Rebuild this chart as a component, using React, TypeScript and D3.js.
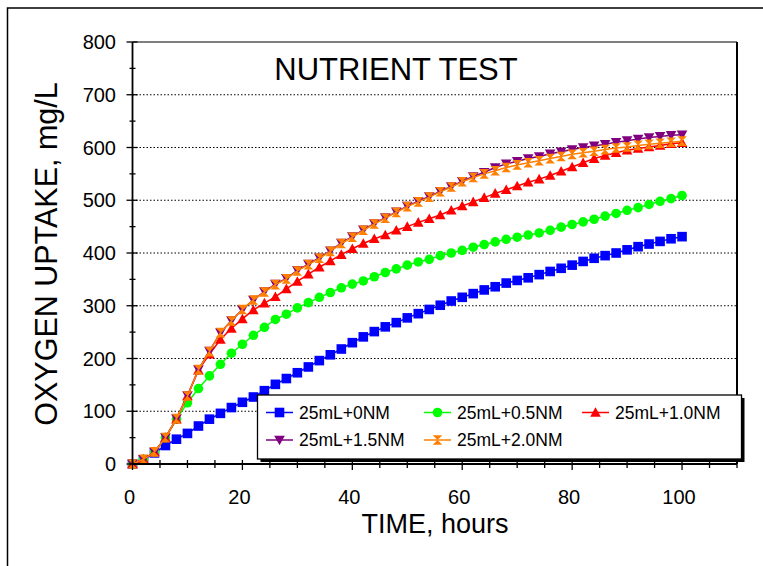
import React from "react";
import * as d3 from "d3";

const hours = d3.range(0, 101, 2);
const seriesNames = ["25mL+0NM", "25mL+0.5NM", "25mL+1.0NM", "25mL+1.5NM", "25mL+2.0NM"];
const blue0 = [0, 8, 21, 35, 47, 58, 72, 85, 96, 107, 117, 127, 139, 151, 162, 173, 184, 196, 207, 218, 230, 241, 251, 260, 268, 277, 285, 293, 301, 309, 316, 323, 330, 336, 343, 348, 353, 359, 365, 371, 377, 384, 390, 395, 400, 406, 412, 417, 422, 427, 431];
const green05 = [0, 9, 23, 50, 85, 116, 143, 167, 189, 210, 227, 244, 259, 274, 284, 296, 306, 316, 325, 334, 341, 347, 355, 363, 370, 377, 383, 388, 395, 400, 405, 411, 416, 421, 426, 430, 434, 438, 443, 449, 454, 459, 464, 470, 475, 481, 486, 492, 498, 503, 509];
const red10 = [0, 9, 23, 50, 85, 129, 178, 208, 236, 257, 275, 292, 305, 317, 332, 346, 360, 373, 385, 397, 408, 418, 427, 434, 443, 450, 458, 465, 472, 481, 489, 497, 505, 513, 520, 527, 534, 540, 547, 555, 563, 571, 579, 585, 590, 595, 598, 601, 604, 607, 609];
const purple15 = [0, 9, 23, 50, 86, 130, 179, 214, 249, 272, 293, 311, 327, 341, 352, 367, 379, 391, 404, 419, 431, 444, 456, 467, 478, 489, 498, 507, 517, 526, 536, 545, 553, 562, 569, 574, 579, 583, 588, 592, 596, 600, 603, 606, 610, 613, 616, 619, 621, 623, 624];
const orange20 = [0, 9, 23, 50, 86, 129, 179, 213, 249, 271, 293, 311, 326, 340, 351, 366, 378, 390, 403, 418, 430, 443, 455, 466, 477, 488, 497, 506, 516, 525, 535, 543, 550, 556, 562, 567, 571, 575, 579, 583, 587, 590, 593, 596, 599, 601, 604, 606, 608, 610, 612];
const seriesValues = [blue0, green05, red10, purple15, orange20];
const seriesColors = ["#0000ff", "#00ff00", "#ff0000", "#800080", "#ff8000"];
const seriesShapes = ["square", "circle", "triangleUp", "triangleDown", "hourglass"];
const yTickLabels = [0, 100, 200, 300, 400, 500, 600, 700, 800];
const xTickLabels = [0, 20, 40, 60, 80, 100];

const FONT = "'Liberation Sans', Arial, sans-serif";

function Marker({ shape, color, cx, cy }: { shape: string; color: string; cx: number; cy: number }) {
  const s = 4.8;
  if (shape === "square")
    return <rect x={cx - s} y={cy - s} width={2 * s} height={2 * s} fill={color} />;
  if (shape === "circle") return <circle cx={cx} cy={cy} r={s} fill={color} />;
  if (shape === "triangleUp")
    return <path d={`M${cx},${cy - s - 0.5}L${cx + s + 0.5},${cy + s - 0.5}L${cx - s - 0.5},${cy + s - 0.5}Z`} fill={color} />;
  if (shape === "triangleDown")
    return <path d={`M${cx},${cy + s + 0.5}L${cx + s + 0.5},${cy - s + 0.5}L${cx - s - 0.5},${cy - s + 0.5}Z`} fill={color} />;
  return (
    <path d={`M${cx - s},${cy - s}L${cx + s},${cy - s}L${cx - s},${cy + s}L${cx + s},${cy + s}Z`} fill={color} />
  );
}

export default function App() {
  const W = 763, H = 566;
  const left = 132.5, right = 737, top = 42, bottom = 464;
  const x = d3.scaleLinear().domain([0, 110]).range([left, right]);
  const y = d3.scaleLinear().domain([0, 800]).range([bottom, top]);
  const line = d3.line<number>().x((_, i) => x(hours[i])).y((d) => y(d));
  const xMinor = d3.range(0, 111, 5);
  const yMinor = d3.range(0, 801, 50);

  const legendX = 257.5, legendY = 395, legendW = 484, legendH = 64;
  const legendPos = [
    [266, 412.5], [424, 412.5], [582, 412.5],
    [266, 440], [424, 440],
  ];

  return (
    <svg width={W} height={H} style={{ position: "absolute", left: 0, top: 0, background: "#fff" }} fontFamily={FONT}>
      <rect x={0} y={0} width={W} height={H} fill="#fff" />
      <rect x={7.5} y={8} width={W + 20} height={H + 20} fill="none" stroke="#000" strokeWidth={1.5} />

      {/* grid */}
      {yTickLabels.filter((v) => v > 0 && v < 800).map((v) => (
        <line key={"g" + v} x1={left} x2={right} y1={y(v)} y2={y(v)} stroke="#000" strokeWidth={1} strokeDasharray="1.5,2" />
      ))}

      {/* plot border */}
      <line x1={left} x2={right} y1={top} y2={top} stroke="#000" strokeWidth={1.2} />
      <line x1={right} x2={right} y1={top} y2={bottom} stroke="#000" strokeWidth={2} />

      {/* title */}
      <text x={396} y={80} textAnchor="middle" fontSize={31}>NUTRIENT TEST</text>

      {/* series */}
      {seriesValues.map((vals, si) => (
        <g key={"s" + si}>
          <path d={line(vals) || ""} fill="none" stroke={seriesColors[si]} strokeWidth={1.5} />
          {vals.map((v, i) => (
            <Marker key={i} shape={seriesShapes[si]} color={seriesColors[si]} cx={x(hours[i])} cy={y(v)} />
          ))}
        </g>
      ))}

      {/* axes */}
      <line x1={left} x2={left} y1={top} y2={bottom} stroke="#000" strokeWidth={1.8} />
      <line x1={left} x2={right} y1={bottom} y2={bottom} stroke="#000" strokeWidth={1.8} />
      {yMinor.map((v) => {
        const major = v % 100 === 0;
        return (
          <line key={"yt" + v} x1={left - (major ? 6 : 3)} x2={left + (major ? 5 : 3)} y1={y(v)} y2={y(v)} stroke="#000" strokeWidth={1.3} />
        );
      })}
      {xMinor.map((v) => {
        const major = v % 20 === 0;
        return (
          <line key={"xt" + v} x1={x(v)} x2={x(v)} y1={bottom - 4} y2={bottom + (major ? 6 : 4)} stroke="#000" strokeWidth={1.3} />
        );
      })}
      {yTickLabels.map((v) => (
        <text key={"yl" + v} x={116} y={y(v) + 7} textAnchor="end" fontSize={20}>{v}</text>
      ))}
      {xTickLabels.map((v) => (
        <text key={"xl" + v} x={x(v) - 3} y={504} textAnchor="middle" fontSize={20}>{v}</text>
      ))}
      <text x={435} y={533} textAnchor="middle" fontSize={27}>TIME, hours</text>
      <text transform={`translate(57,254) rotate(-90)`} textAnchor="middle" fontSize={30.5}>OXYGEN UPTAKE, mg/L</text>

      {/* legend */}
      <rect x={legendX + 3} y={legendY + 3} width={legendW} height={legendH} fill="#000" />
      <rect x={legendX} y={legendY} width={legendW} height={legendH} fill="#fff" stroke="#000" strokeWidth={1.3} />
      {seriesNames.map((name, i) => {
        const [lx, ly] = legendPos[i];
        return (
          <g key={"l" + i}>
            <line x1={lx} x2={lx + 27} y1={ly} y2={ly} stroke={seriesColors[i]} strokeWidth={1.5} />
            <Marker shape={seriesShapes[i]} color={seriesColors[i]} cx={lx + 13.5} cy={ly} />
            <text x={lx + 33} y={ly + 6} fontSize={17.5}>{name}</text>
          </g>
        );
      })}
    </svg>
  );
}
